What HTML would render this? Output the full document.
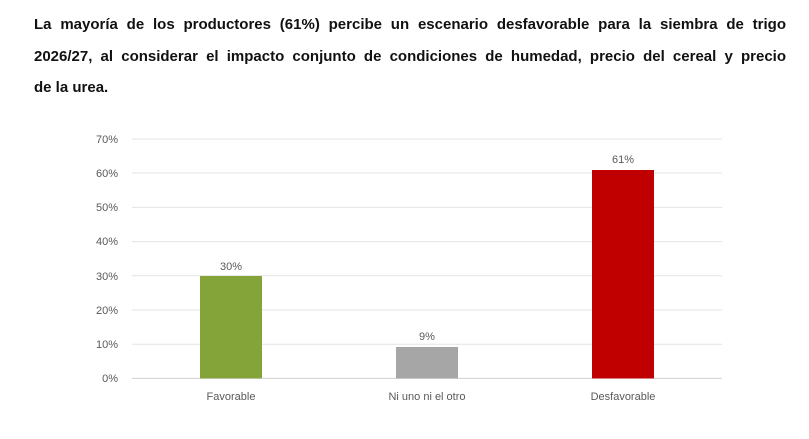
<!DOCTYPE html>
<html><head><meta charset="utf-8"><style>
body{margin:0;width:809px;height:439px;background:#fff;font-family:"Liberation Sans",sans-serif;overflow:hidden;position:relative}
.t{position:absolute;left:34px;top:9px;width:752px;font-weight:bold;font-size:15px;line-height:31.5px;color:#111}
.t div{text-align:justify;text-align-last:justify;white-space:nowrap}
.t div.l{text-align-last:left}
svg{position:absolute;left:0;top:0}
svg text{font-family:"Liberation Sans",sans-serif;font-size:11px;fill:#595959}
</style></head><body>
<div class="t">
<div>La mayoría de los productores (61%) percibe un escenario desfavorable para la siembra de trigo</div>
<div>2026/27, al considerar el impacto conjunto de condiciones de humedad, precio del cereal y precio</div>
<div class="l">de la urea.</div>
</div>
<svg width="809" height="439">
<g stroke="#e3e3e3" stroke-width="1">
<line x1="132" x2="722" y1="139" y2="139"/><line x1="132" x2="722" y1="173" y2="173"/><line x1="132" x2="722" y1="207.4" y2="207.4"/><line x1="132" x2="722" y1="241.6" y2="241.6"/><line x1="132" x2="722" y1="275.8" y2="275.8"/><line x1="132" x2="722" y1="310" y2="310"/><line x1="132" x2="722" y1="344.2" y2="344.2"/><line x1="132" x2="722" y1="378.4" y2="378.4" stroke="#d0d0d0"/>
</g>
<g text-anchor="end">
<text x="118" y="143">70%</text><text x="118" y="177">60%</text><text x="118" y="211">50%</text><text x="118" y="245">40%</text><text x="118" y="280">30%</text><text x="118" y="314">20%</text><text x="118" y="348">10%</text><text x="118" y="382">0%</text>
</g>
<rect x="200" y="276" width="62" height="102.4" fill="#84a43a"/>
<rect x="396" y="347" width="62" height="31.4" fill="#a6a6a6"/>
<rect x="592" y="170" width="62" height="208.4" fill="#c00000"/>
<g text-anchor="middle">
<text x="231" y="270">30%</text><text x="427" y="340">9%</text><text x="623" y="163">61%</text>
<text x="231" y="400">Favorable</text><text x="427" y="400">Ni uno ni el otro</text><text x="623" y="400">Desfavorable</text>
</g>
</svg>
</body></html>
